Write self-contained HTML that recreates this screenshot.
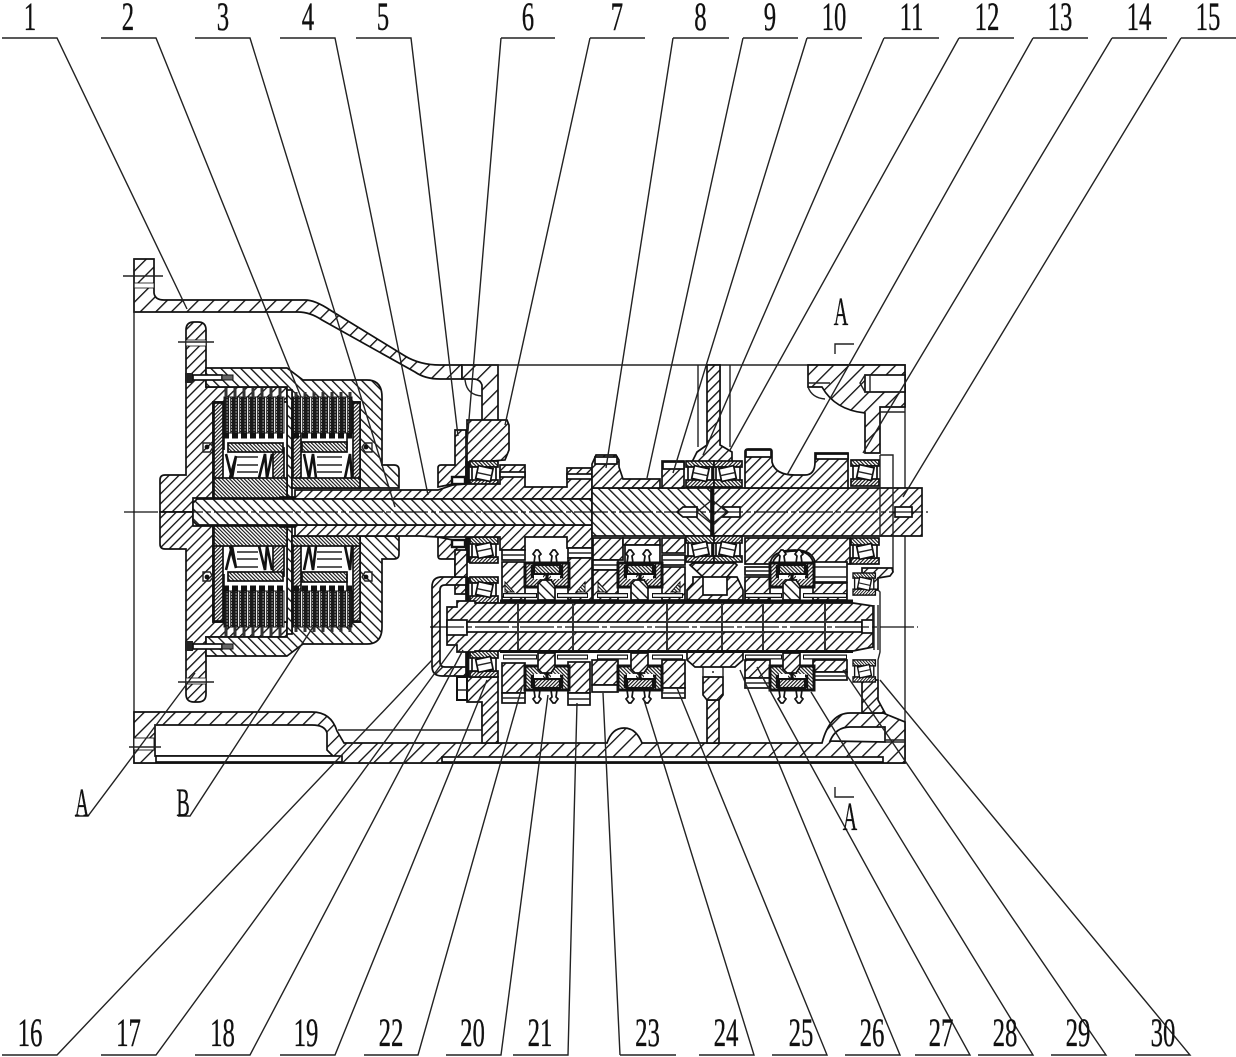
<!DOCTYPE html>
<html><head><meta charset="utf-8"><style>
html,body{margin:0;padding:0;background:#fff}
svg{display:block}
text{font-family:"Liberation Serif",serif;font-size:40px;text-anchor:middle;fill:#111;stroke:#111;stroke-width:.35}
.l{fill:none;stroke:#222;stroke-width:1.4}
.c{fill:none;stroke:#111;stroke-width:1.2;stroke-dasharray:34 3 5 3}
.s,.a,.b,.aw,.f,.g,.w,.k{stroke:#111;stroke-width:1.7}
.a{fill:url(#h1)}.b{fill:url(#h2)}.aw{fill:url(#h3)}.f{fill:url(#f1)}.g{fill:url(#f2)}
.w{fill:#fff}.k{fill:#111}
.ma{fill:var(--a);stroke:#111;stroke-width:1.7}
.mb{fill:var(--b);stroke:#111;stroke-width:1.7}
.mf{fill:var(--f);stroke:#111;stroke-width:1.7}
.mg{fill:var(--g);stroke:#111;stroke-width:1.7}
</style></head><body>
<svg width="1236" height="1057" viewBox="0 0 1236 1057" xmlns="http://www.w3.org/2000/svg">
<defs>
<pattern id="h1" width="7" height="7" patternUnits="userSpaceOnUse" patternTransform="rotate(45)"><rect width="7" height="7" fill="#fff"/><rect width="1.35" height="7" fill="#111"/></pattern>
<pattern id="h2" width="7" height="7" patternUnits="userSpaceOnUse" patternTransform="rotate(-45)"><rect width="7" height="7" fill="#fff"/><rect width="1.35" height="7" fill="#111"/></pattern>
<pattern id="h3" width="11" height="11" patternUnits="userSpaceOnUse" patternTransform="rotate(45)"><rect width="11" height="11" fill="#fff"/><rect width="1.35" height="11" fill="#111"/></pattern>
<pattern id="f1" width="2.6" height="2.6" patternUnits="userSpaceOnUse" patternTransform="rotate(45)"><rect width="2.6" height="2.6" fill="#fff"/><rect width="1.1" height="2.6" fill="#111"/></pattern>
<pattern id="f2" width="2.6" height="2.6" patternUnits="userSpaceOnUse" patternTransform="rotate(-45)"><rect width="2.6" height="2.6" fill="#fff"/><rect width="1.1" height="2.6" fill="#111"/></pattern>
<pattern id="pk" width="9" height="3" patternUnits="userSpaceOnUse"><rect width="9" height="3" fill="#1a1a1a"/><rect x="1.6" width="1" height="2" fill="#999"/><rect x="6" width="1" height="2" fill="#999"/><rect x="4" width="1.2" height="3" fill="#eee"/></pattern>

<g id="brg">
<rect class="g" x="0" y="0" width="28" height="6"/>
<rect class="w" x="2" y="6" width="24" height="14"/>
<rect class="f" x="0" y="19" width="28" height="7"/>
<rect class="w" x="7" y="6" width="15" height="13" transform="rotate(12 14 12)"/>
<path class="l" d="M7,13H22" transform="rotate(12 14 12)"/>
</g>

<g id="syn">
<path class="w" d="M9,13 L10,6 L8,4 L11,0 L13,0 L16,4 L14,6 L15,13Z"/>
<path class="w" d="M26,13 L27,6 L25,4 L28,0 L30,0 L33,4 L31,6 L32,13Z"/>
<rect class="f" x="0" y="13" width="44" height="24" style="stroke-width:3"/>
<rect class="g" x="9" y="15" width="26" height="9" style="stroke-width:2.2"/>
<path d="M7,15V27H15M37,15V27H29" stroke="#111" stroke-width="2.4" fill="none"/>
<rect class="w" x="9" y="25" width="9" height="4" style="stroke:none"/>
<rect class="w" x="26" y="25" width="9" height="4" style="stroke:none"/>
<rect x="20.5" y="24" width="3" height="10" fill="#111"/>
<path class="b" d="M13,34 L17,30 L26,30 L30,36 L30,50 L13,50Z"/>
</g>

<g id="cl">
<path class="ma" d="M186,330 q0,-8 8,-8 h4 q8,0 8,8 V387 H283 q4,0 4,4 V402 H213 V498 H193 V512 H160 V480 q0,-5 5,-5 H186 Z"/>
<path class="mb" d="M206,368 H287 L303,380 H367 Q382,380 382,397 V465 H394 Q399,465 399,470 V488 H360 V402 H292 V393 L287,391 V387 H206Z"/>
<rect class="mb" x="287" y="390" width="5" height="108"/>
<rect class="w" x="186" y="340" width="20" height="6" style="stroke-width:.8"/>
<rect class="w" x="213" y="402" width="74" height="96"/>
<rect class="w" x="292" y="402" width="68" height="86"/>
<rect class="mf" x="214" y="403" width="9" height="76"/>
<rect class="mf" x="273" y="448" width="11" height="31"/>
<rect class="mg" x="214" y="478" width="73" height="20"/>
<rect class="mg" x="228" y="443" width="55" height="9"/>
<rect class="mf" x="293" y="403" width="8" height="76"/>
<rect class="mf" x="353" y="403" width="7" height="76"/>
<rect class="mg" x="292" y="478" width="68" height="10"/>
<rect class="mg" x="302" y="442" width="45" height="10"/>
<rect x="224" y="397" width="60" height="36" fill="url(#pk)" stroke="#111"/>
<rect x="293" y="397" width="59" height="36" fill="url(#pk)" stroke="#111"/>
<path d="M226,397V388M235,397V388M244,397V388M253,397V388M262,397V388M271,397V388M280,397V388M296,397V392M305,397V392M314,397V392M323,397V392M332,397V392M341,397V392M350,397V392" stroke="#333" stroke-width="3" fill="none"/>
<path d="M223,436H283M293,436H352" stroke="#111" stroke-width="5" stroke-dasharray="6 3" fill="none"/>
<path d="M224,433V450M347,433V450" stroke="#111" stroke-width="1.6" fill="none"/>
<path d="M226,454 L232,478 L236,456 L230,478 M259,478 L265,454 L267,478 L272,454 M304,454 L309,478 L313,454 L316,478 M345,478 L350,454 L352,478" stroke="#111" stroke-width="2.6" fill="none"/>
<path class="l" d="M237,457H258M237,465H258M237,472H258M317,457H342M317,465H342M317,472H342"/>
<circle cx="207" cy="447" r="2.4" fill="#111"/><path class="l" d="M203,443H210L213,447L210,452H203Z"/>
<circle cx="366" cy="447" r="2.4" fill="#111"/><path class="l" d="M362,447L365,443H372V452H365Z"/>
<rect x="185" y="373" width="8" height="10" fill="#222"/>
<rect class="w" x="193" y="375" width="29" height="5"/>
<rect x="222" y="375" width="11" height="5" fill="#666" stroke="#111"/>
<rect class="k" x="280" y="497" width="15" height="2"/>
<path class="ma" d="M438,487V468q0,-3 3,-3H455V430H466V477H453V484L438,487Z"/>
<rect class="w" x="452" y="477" width="13" height="7" style="stroke-width:2.4"/>
<rect class="k" x="466" y="462" width="3" height="25"/>
<use href="#brg" x="470" y="461"/>
</g>
</defs>

<rect width="1236" height="1057" fill="#fff"/>

<path class="aw" d="M134,259H154V293Q155,300 164,300H305Q315,300 330,310L405,356Q420,365 440,365H462V379H440Q425,379 415,372L322,320Q310,312 298,312H134Z"/>
<rect class="w" x="134" y="283" width="20" height="5" style="stroke-width:.8"/>
<path class="aw" d="M462,365H498V430H482V385Q480,379 473,379H462Z"/>
<path class="l" d="M465,379Q466,395 482,396"/>
<path class="a" d="M467,420H507L509,425V450L505,460L467,463Z"/>
<path class="l" d="M134,259V763H905V365H462"/>

<path class="aw" d="M808,365H905V407H880V453H865V413Q835,410 822,387H808Z"/>
<rect class="w" x="865" y="375" width="40" height="17"/>
<path class="l" d="M865,375L860,383L865,392M870,375V392M880,412H905M808,387Q812,398 825,399"/>
<path class="l" d="M698,365V447M730,365V447M720,365V445"/>
<path class="a" d="M707,365H720V445L732,452V462H692L697,452L707,445Z"/>

<path class="aw" d="M134,712H312Q331,712 337,731L344,743H607Q612,728 624,728Q636,728 642,743H822Q830,713 850,713H883L905,722V763H134Z"/>
<path class="w" d="M155,725H312Q325,725 327,733V750L333,756H155Z"/>
<rect class="w" x="156" y="756" width="186" height="6"/>
<rect class="w" x="442" y="757" width="441" height="5"/>
<rect class="w" x="134" y="738" width="20" height="12" style="stroke-width:.9"/>
<path class="w" d="M830,741Q836,727 850,727H885V742Z"/>
<path class="l" d="M885,742H905M338,730H482V703"/>
<path class="a" d="M467,677H498V743H482V702H467Z"/>
<rect class="a" x="707" y="700" width="12" height="43"/>
<path class="a" d="M703,677H723V695L719,700H707L703,695Z"/>
<path class="l" d="M703,660V677M723,660V677M712,672H714"/>
<path class="a" d="M862,680H878V700L885,713H862Z"/>

<use href="#cl" style="--a:url(#h1);--b:url(#h2);--f:url(#f1);--g:url(#f2)"/>
<use href="#cl" transform="matrix(1 0 0 -1 0 1024)" style="--a:url(#h2);--b:url(#h1);--f:url(#f2);--g:url(#f1)"/>

<path class="a" d="M295,490H438L453,485L466,484H500V465H525V487H567V468H592V499H295Z"/>
<path class="a" d="M295,525H592V548H567V537H525V550H500V537H438L420,536H295Z"/>
<rect class="w" x="500" y="472" width="25" height="5"/>
<rect class="w" x="567" y="474" width="25" height="5"/>
<path class="b" d="M193,503L197,499H592V525H197L193,521Z"/>
<path class="b" d="M592,488H712V536H592Z"/>
<path class="a" d="M712,488H922V536H712Z"/>
<path class="w" d="M683,507H697V517H683L677,512Z"/>
<path class="w" d="M722,507H740V517H722L728,512Z"/>
<path class="w" d="M895,507H912V517H895Z"/>
<path class="l" d="M697,512L712,500L727,512L712,524Z"/>
<rect class="k" x="711" y="462" width="2.5" height="100"/>

<path class="a" d="M592,488V464L596,455H616L619,460V467L623,479H660V488Z"/>
<rect class="a" x="662" y="461" width="22" height="27"/>
<path class="a" d="M745,488V452q0,-3 3,-3H770q2,0 2,3V462Q775,475 795,475H805Q815,475 815,462V453H848V488Z"/>
<path class="w" d="M595,457H617V464H595ZM663,462H684V469H663ZM746,450H771V457H746ZM816,454H848V459H816Z"/>
<use href="#brg" x="686" y="461"/>
<use href="#brg" transform="translate(742,461) scale(-1,1)"/>
<use href="#brg" x="851" y="460"/>
<path class="l" d="M880,455H893V572M880,455V537"/>
<use href="#brg" transform="translate(686,562) scale(1,-1)"/>
<use href="#brg" transform="translate(742,562) scale(-1,-1)"/>
<use href="#brg" transform="translate(851,564) scale(1,-1)"/>
<rect class="a" x="593" y="538" width="30" height="22"/>
<rect class="a" x="623" y="538" width="37" height="7"/>
<rect class="a" x="662" y="538" width="23" height="15"/>
<path class="a" d="M745,538H850V564H815V562Q812,550 795,550Q772,550 770,564H745Z"/>
<path class="w" d="M625,545H660V563H625Z"/>
<path class="w" d="M772,566Q774,551 795,551Q812,551 814,566Z"/>
<path class="a" d="M693,563H735L737,565L727,577H703L690,565Z"/>

<rect class="w" x="502" y="550" width="23" height="10"/>
<rect class="a" x="502" y="562" width="23" height="38"/>
<rect class="w" x="568" y="548" width="24" height="10"/>
<rect class="a" x="568" y="558" width="24" height="42"/>
<rect class="w" x="593" y="560" width="25" height="10"/>
<rect class="a" x="593" y="570" width="25" height="30"/>
<rect class="w" x="662" y="555" width="23" height="10"/>
<rect class="a" x="662" y="567" width="23" height="33"/>
<rect class="w" x="745" y="567" width="25" height="8"/>
<rect class="a" x="745" y="577" width="25" height="23"/>
<rect class="w" x="813" y="562" width="34" height="20"/>
<rect class="a" x="813" y="583" width="34" height="17"/>
<path class="l" d="M502,555H525M568,553H592M593,565H618M662,560H685M745,571H770M813,567H847M813,577H847"/>
<path class="a" d="M687,600V590L693,583V577H703V595H727V577H737L743,590V600Z"/>
<rect class="a" x="502" y="663" width="23" height="30"/>
<rect class="w" x="502" y="693" width="23" height="10"/>
<rect class="a" x="568" y="662" width="22" height="31"/>
<rect class="w" x="568" y="693" width="22" height="12"/>
<rect class="a" x="592" y="660" width="26" height="25"/>
<rect class="w" x="592" y="685" width="26" height="7"/>
<rect class="a" x="662" y="660" width="23" height="28"/>
<rect class="w" x="662" y="688" width="23" height="10"/>
<rect class="a" x="745" y="660" width="25" height="18"/>
<rect class="w" x="745" y="678" width="25" height="10"/>
<rect class="a" x="813" y="660" width="34" height="12"/>
<rect class="w" x="813" y="672" width="34" height="8"/>
<path class="a" d="M687,652H743V660L735,667H695L687,660Z"/>
<path class="l" d="M502,698H525M568,699H590M662,693H685M745,683H770M813,676H847"/>

<path class="a" d="M440,577H467V585H445Q440,585 440,590V662Q440,667 445,667H467V676H442Q432,676 432,666V587Q432,577 442,577Z"/>
<path class="a" d="M455,550H467V577H455Z"/>
<path class="w" d="M457,677H467V700H457Z" style="stroke-width:2"/>
<use href="#brg" x="470" y="577"/>
<use href="#brg" transform="translate(470,677) scale(1,-1)"/>
<rect class="k" x="466" y="578" width="2.5" height="26"/>
<rect class="k" x="466" y="650" width="2.5" height="26"/>
<path class="a" d="M862,568H892L893,572L890,576L878,578V590H872L862,576Z"/>
<use href="#brg" transform="translate(853,573) scale(.8,.85)"/>
<use href="#brg" transform="translate(853,682) scale(.8,-.85)"/>

<path class="a" d="M447,607H457V601H475V603H853L873,606V647L853,651H475V652H457V645H447Z"/>
<rect class="w" x="447" y="620" width="20" height="15"/>
<rect class="w" x="467" y="622" width="395" height="10"/>
<rect class="w" x="862" y="620" width="11" height="13"/>
<path d="M518,603V650M573,603V650M667,603V650M722,603V650M763,603V650M825,603V650" stroke="#333" stroke-width="2" fill="none"/>
<rect x="500" y="599.5" width="353" height="3" fill="#111"/>
<rect x="500" y="650" width="353" height="3" fill="#111"/>
<path d="M503,595.5H537M557,595.5H588M597,595.5H628M652,595.5H683M745,595.5H782M803,595.5H847" stroke="#111" stroke-width="5" fill="none"/>
<path d="M504,595.5H536M558,595.5H587M598,595.5H627M653,595.5H682M746,595.5H781M804,595.5H846" stroke="#fff" stroke-width="2.4" fill="none"/>
<path d="M503,657H537M557,657H588M597,657H628M652,657H683M745,657H782M803,657H847" stroke="#111" stroke-width="5" fill="none"/>
<path d="M504,657H536M558,657H587M598,657H627M653,657H682M746,657H781M804,657H846" stroke="#fff" stroke-width="2.4" fill="none"/>
<path class="g" d="M505,582L514,592L505,592ZM585,582L576,592L585,592ZM598,582L607,592L598,592ZM680,582L671,592L680,592Z" style="stroke-width:1"/>
<path class="l" d="M874,605V650M878,605V650M878,590L880,592V652L878,660V680"/>

<use href="#syn" x="525" y="550"/>
<use href="#syn" x="618" y="550"/>
<use href="#syn" x="770" y="550"/>
<use href="#syn" transform="translate(525,703) scale(1,-1)"/>
<use href="#syn" transform="translate(618,703) scale(1,-1)"/>
<use href="#syn" transform="translate(770,703) scale(1,-1)"/>

<path class="c" d="M124,512H928"/>
<path class="c" d="M430,627H918"/>
<path class="l" d="M123,276H163M129,747H161M178,342H214M178,682H214M885,740H905M808,383H830M458,690H470"/>

<path class="l" d="M835,354V344H854M835,787V797H854"/>

<path class="l" d="M2,38H57L187,309M101,38H156L301,397M195,38H250L395,507M280,38H335L428,495M356,38H411L458,436M501,38H555M501,38L466,455M590,38H645M590,38L505,425M673,38H729M673,38L606,468M743,38H798M743,38L647,478M807,38H862M807,38L673,473M884,38H939M884,38L703,455M959,38H1014M959,38L730,450M1033,38H1088M1033,38L787,475M1112,38H1167M1112,38L863,453M1181,38H1236M1181,38L903,497"/>
<path class="l" d="M2,1055H57L432,660M101,1055H156L459,640M195,1055H250L463,650M280,1055H335L487,680M364,1055H418L522,687M446,1055H501L548,695M513,1055H568L577,703M620,1055H676M620,1055L603,693M699,1055H754L644,700M772,1055H827L677,688M845,1055H900L740,670M915,1055H970L757,667M978,1055H1033L811,692M1051,1055H1106L843,670M1135,1055H1190L880,680"/>
<path class="l" d="M75,816H88L195,673M178,816H190L313,627"/>

<g>
<text transform="translate(30,30) scale(.62,1)">1</text>
<text transform="translate(128,30) scale(.62,1)">2</text>
<text transform="translate(223,30) scale(.62,1)">3</text>
<text transform="translate(308,30) scale(.62,1)">4</text>
<text transform="translate(383,30) scale(.62,1)">5</text>
<text transform="translate(528,30) scale(.62,1)">6</text>
<text transform="translate(617,30) scale(.62,1)">7</text>
<text transform="translate(700.5,30) scale(.62,1)">8</text>
<text transform="translate(770,30) scale(.62,1)">9</text>
<text transform="translate(834,30) scale(.62,1)">10</text>
<text transform="translate(911.5,30) scale(.62,1)">11</text>
<text transform="translate(987,30) scale(.62,1)">12</text>
<text transform="translate(1060,30) scale(.62,1)">13</text>
<text transform="translate(1139,30) scale(.62,1)">14</text>
<text transform="translate(1208,30) scale(.62,1)">15</text>
<text transform="translate(30,1046) scale(.62,1)">16</text>
<text transform="translate(128.5,1046) scale(.62,1)">17</text>
<text transform="translate(222.5,1046) scale(.62,1)">18</text>
<text transform="translate(306,1046) scale(.62,1)">19</text>
<text transform="translate(391,1046) scale(.62,1)">22</text>
<text transform="translate(472.5,1046) scale(.62,1)">20</text>
<text transform="translate(540,1046) scale(.62,1)">21</text>
<text transform="translate(647.5,1046) scale(.62,1)">23</text>
<text transform="translate(726,1046) scale(.62,1)">24</text>
<text transform="translate(801,1046) scale(.62,1)">25</text>
<text transform="translate(872,1046) scale(.62,1)">26</text>
<text transform="translate(941,1046) scale(.62,1)">27</text>
<text transform="translate(1005,1046) scale(.62,1)">28</text>
<text transform="translate(1078,1046) scale(.62,1)">29</text>
<text transform="translate(1163,1046) scale(.62,1)">30</text>
<text transform="translate(82,816) scale(.5,1)">A</text>
<text transform="translate(183,816) scale(.5,1)">B</text>
<text transform="translate(841,325) scale(.5,1)">A</text>
<text transform="translate(850,830) scale(.5,1)">A</text>
</g>
</svg>
</body></html>
